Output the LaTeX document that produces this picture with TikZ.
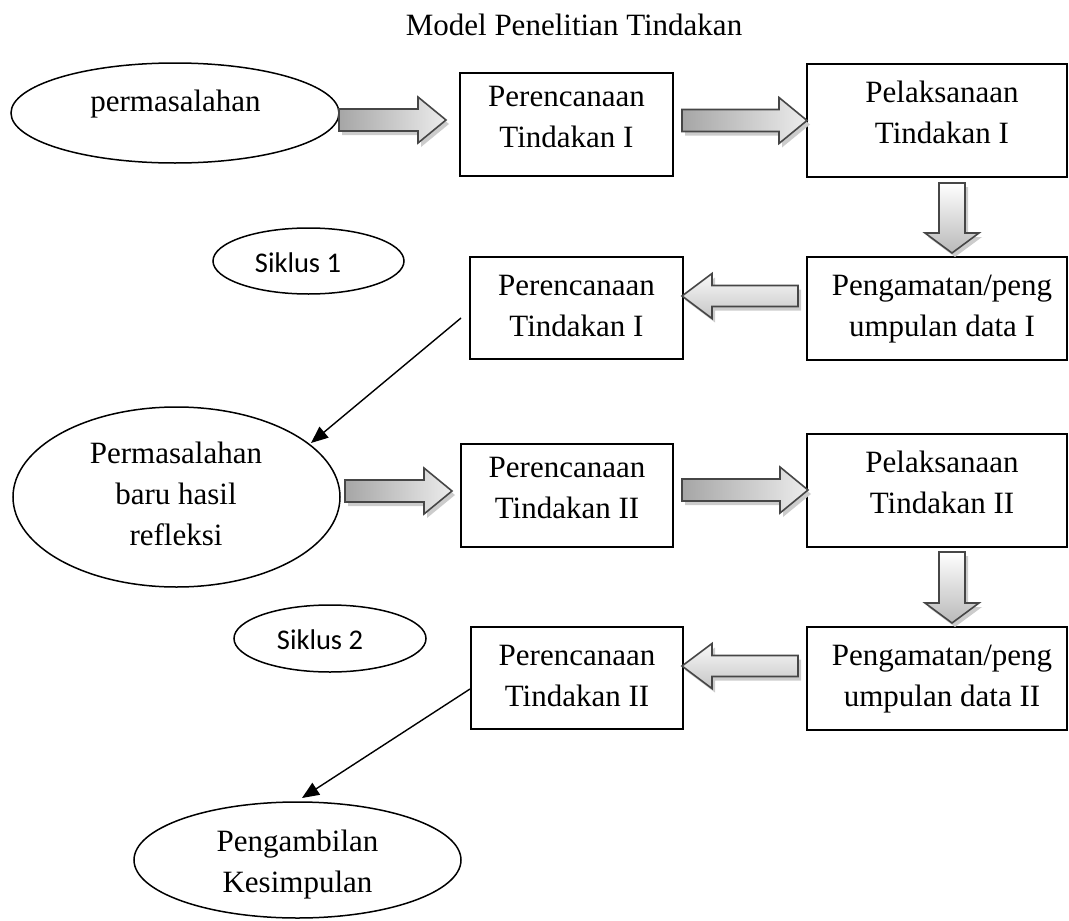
\documentclass[tikz,border=0pt]{standalone}
\usepackage{fontspec}
\setmainfont{Liberation Serif}
\newfontfamily\calibfont{Carlito}
\usetikzlibrary{shapes.geometric,arrows.meta,calc}
% block arrows between named coordinates (tail, tip, style)
\newcommand\arrowR[3]{\path[#3] let \p1=(#1),\p2=(#2) in
  (\x1,\y1+11) -- (\x2-28,\y1+11) -- (\x2-28,\y1+23) -- (\x2,\y1) --
  (\x2-28,\y1-23) -- (\x2-28,\y1-11) -- (\x1,\y1-11) -- cycle;}
\newcommand\arrowD[3]{\path[#3] let \p1=(#1),\p2=(#2) in
  (\x1-13,\y1) -- (\x1-13,\y2+20) -- (\x1-27,\y2+20) -- (\x2,\y2) --
  (\x1+27,\y2+20) -- (\x1+13,\y2+20) -- (\x1+13,\y1) -- cycle;}
\newcommand\arrowL[3]{\path[#3] let \p1=(#1),\p2=(#2) in
  (\x1,\y1+10.5) -- (\x2+30,\y1+10.5) -- (\x2+30,\y1+22.5) -- (\x2,\y1) --
  (\x2+30,\y1-22.5) -- (\x2+30,\y1-10.5) -- (\x1,\y1-10.5) -- cycle;}
\begin{document}
\begin{tikzpicture}[x=1pt,y=-1pt,
  box/.style={draw=black,line width=1.5pt,rectangle,inner sep=0pt},
  oval/.style={draw=black,line width=1.5pt,ellipse,inner sep=0pt},
  txt/.style={font=\fontsize{31}{41}\selectfont,align=center,inner sep=0pt},
  small/.style={font=\calibfont\fontsize{28.5}{34}\selectfont,inner sep=0pt,anchor=base},
  shd/.style={fill=gray!40,transform canvas={shift={(3pt,-4pt)}}},
  blk/.style={draw=gray!55!black,line width=1.6pt,line join=miter},
  blkR/.style={blk,left color=gray!70,right color=gray!15},
  blkD/.style={blk,top color=white,bottom color=gray!55},
  blkL/.style={blk,top color=gray!5,bottom color=gray!45},
  conn/.style={line width=1.4pt,-{Triangle[length=17pt,width=14pt]}}
]
\useasboundingbox (0,0) rectangle (1069,921);

% title
\node[txt,anchor=base] (title) at (574,35) {Model Penelitian Tindakan};

% boxes
\node[box,minimum width=213pt,minimum height=103pt] (b1) at (566.5,124.5) {};
\node[box,minimum width=260pt,minimum height=113pt] (b2) at (937,120.5) {};
\node[box,minimum width=213pt,minimum height=102pt] (b3) at (576.5,308) {};
\node[box,minimum width=260pt,minimum height=103pt] (b4) at (937,308.5) {};
\node[box,minimum width=212pt,minimum height=103pt] (b5) at (567,495.5) {};
\node[box,minimum width=260pt,minimum height=113pt] (b6) at (937,490.5) {};
\node[box,minimum width=212pt,minimum height=102pt] (b7) at (577,678) {};
\node[box,minimum width=260pt,minimum height=103pt] (b8) at (937,678.5) {};

\node[txt] (t1) at (566.5,118.3) {\strut Perencanaan\\\strut Tindakan I};
\node[txt] (t2) at (942,114.3) {\strut Pelaksanaan\\\strut Tindakan I};
\node[txt] (t3) at (576.5,307.8) {\strut Perencanaan\\\strut Tindakan I};
\node[txt] (t4) at (942,307.7) {\strut Pengamatan/peng\\\strut umpulan data I};
\node[txt] (t5) at (567,489.3) {\strut Perencanaan\\\strut Tindakan II};
\node[txt] (t6) at (942,484.7) {\strut Pelaksanaan\\\strut Tindakan II};
\node[txt] (t7) at (577,677.8) {\strut Perencanaan\\\strut Tindakan II};
\node[txt] (t8) at (942,677.3) {\strut Pengamatan/peng\\\strut umpulan data II};

% ellipses
\node[oval,minimum width=328pt,minimum height=100pt] (e1) at (175,113) {};
\node[txt,anchor=base] (te1) at (175.5,111) {permasalahan};
\node[oval,minimum width=191pt,minimum height=66pt] (s1) at (308.5,261) {};
\node[small] (ts1) at (298,272) {Siklus 1};
\node[oval,minimum width=327pt,minimum height=180pt] (e3) at (176.5,497) {};
\node[txt] (te3) at (176,495.8) {\strut Permasalahan\\\strut baru hasil\\\strut refleksi};
\node[oval,minimum width=192pt,minimum height=67pt] (s2) at (330,638.5) {};
\node[small] (ts2) at (320,649) {Siklus 2};
\node[oval,minimum width=327pt,minimum height=116pt] (e4) at (297.5,860) {};
\node[txt] (te4) at (297.5,863.8) {\strut Pengambilan\\\strut Kesimpulan};

% block arrow end points
\coordinate (a1s) at (339,120);   \coordinate (a1e) at (446,120);
\coordinate (a2s) at (682,120.5); \coordinate (a2e) at (807,120.5);
\coordinate (a3s) at (952,183);   \coordinate (a3e) at (952,253);
\coordinate (a4s) at (798,296);   \coordinate (a4e) at (682,296);
\coordinate (a5s) at (345,491);   \coordinate (a5e) at (452,491);
\coordinate (a6s) at (682,490);   \coordinate (a6e) at (808,490);
\coordinate (a7s) at (952,552);   \coordinate (a7e) at (952,623);
\coordinate (a8s) at (798,666);   \coordinate (a8e) at (682,666);

% shadows
\arrowR{a1s}{a1e}{shd}
\arrowR{a2s}{a2e}{shd}
\arrowD{a3s}{a3e}{shd}
\arrowL{a4s}{a4e}{shd}
\arrowR{a5s}{a5e}{shd}
\arrowR{a6s}{a6e}{shd}
\arrowD{a7s}{a7e}{shd}
\arrowL{a8s}{a8e}{shd}
% arrows
\arrowR{a1s}{a1e}{blkR}
\arrowR{a2s}{a2e}{blkR}
\arrowD{a3s}{a3e}{blkD}
\arrowL{a4s}{a4e}{blkL}
\arrowR{a5s}{a5e}{blkR}
\arrowR{a6s}{a6e}{blkR}
\arrowD{a7s}{a7e}{blkD}
\arrowL{a8s}{a8e}{blkL}

% line connectors
\coordinate (l1s) at (461,318); \coordinate (l1e) at (311,443);
\coordinate (l2s) at (470,689); \coordinate (l2e) at (302,798);
\draw[conn] (l1s) -- (l1e);
\draw[conn] (l2s) -- (l2e);
\end{tikzpicture}
\end{document}
